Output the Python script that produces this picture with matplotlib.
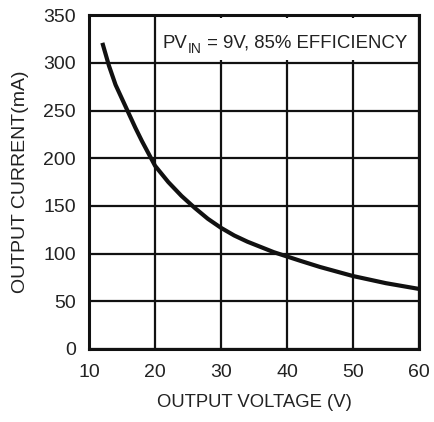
import matplotlib
matplotlib.use("Agg")
import matplotlib.pyplot as plt
from matplotlib.patches import Rectangle

# Data
voltage = [12, 13, 14, 15, 16, 17, 18, 19, 20, 22, 24, 26, 28, 30, 32, 34, 36, 38, 40, 42, 45, 50, 55, 60]
current = [321, 297, 277, 262, 247, 232, 218, 205, 192, 175, 160.5, 148, 136.5, 127, 119, 112.5,
           107, 101.5, 97, 92.5, 86, 76.5, 69, 63]
x_ticks = [10, 20, 30, 40, 50, 60]
y_ticks = [0, 50, 100, 150, 200, 250, 300, 350]
x_label = "OUTPUT VOLTAGE (V)"
y_label = "OUTPUT CURRENT(mA)"
note_main = "PV"
note_sub = "IN"
note_rest = " = 9V, 85% EFFICIENCY"

plt.rcParams['font.family'] = ['Liberation Sans', 'DejaVu Sans']

ink = '#111111'
txt = '#222222'

fig = plt.figure(figsize=(4.35, 4.22), dpi=100)
ax = fig.add_axes([0.205, 0.173, 0.758, 0.791])

ax.plot(voltage, current, color=ink, lw=3.0, solid_capstyle='butt',
        solid_joinstyle='round', zorder=4)

ax.set_xlim(10, 60)
ax.set_ylim(0, 350)
ax.set_xticks(x_ticks)
ax.set_yticks(y_ticks)
ax.grid(True, color=ink, lw=1.6)
ax.tick_params(length=0, labelsize=14, colors=txt)
ax.tick_params(axis='x', pad=11)
ax.tick_params(axis='y', pad=9.5)
for s in ax.spines.values():
    s.set_linewidth(2.2)
    s.set_color(ink)
    s.set_zorder(6)

ax.set_xlabel(x_label, fontsize=13.3, color=txt, labelpad=9)
ax.set_ylabel(y_label, fontsize=14, color=txt, labelpad=10)

ax.add_patch(Rectangle((0.208, 0.865), 0.786, 0.126, transform=ax.transAxes,
                       facecolor='white', edgecolor='none', zorder=3))
t1 = ax.text(0.2235, 0.903, note_main, transform=ax.transAxes, ha='left',
             va='baseline', fontsize=13.4, color=txt, zorder=5)
t2 = ax.annotate(note_sub, xy=(1, 0), xycoords=t1, xytext=(0.3, -3.0),
                 textcoords='offset points', ha='left', va='bottom',
                 fontsize=10, color=txt, zorder=5)
t3 = ax.annotate(note_rest, xy=(1, 0), xycoords=(t2, t1), ha='left',
                 va='bottom', fontsize=13.4, color=txt, zorder=5)

fig.savefig("out.png", dpi=100)
